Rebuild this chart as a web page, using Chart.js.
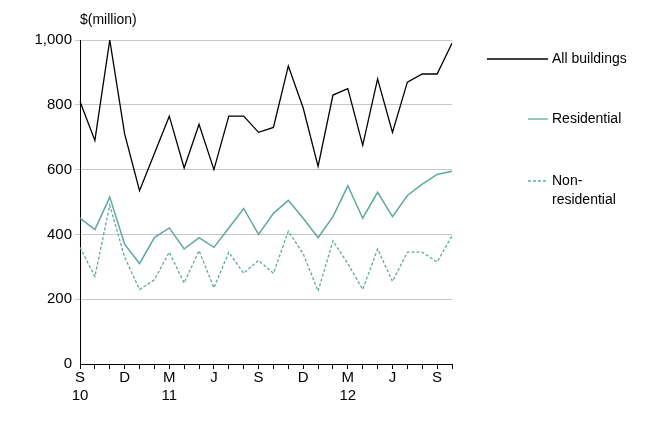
<!DOCTYPE html>
<html><head>
<script src="https://cdn.jsdelivr.net/npm/chart.js@4"></script>
<style>body{margin:0;background:#fff}#wrap{width:663px;height:425px}</style>
</head><body>
<div id="wrap"><canvas id="c"></canvas></div>
<script>
const months = ['S','O','N','D','J','F','M','A','M','J','J','A','S','O','N','D','J','F','M','A','M','J','J','A','S','O'];
const years = ['10','','','','','','11','','','','','','','','','','','','12','','','','','','',''];
const allBuildings = [810,690,1000,710,535,650,765,605,740,600,765,765,715,730,920,790,610,830,850,675,880,715,870,895,895,990];
const residential = [450,415,515,370,310,390,420,355,390,360,420,480,400,465,505,450,390,455,550,450,530,455,520,555,585,595];
const nonResidential = [360,270,490,330,230,260,345,250,350,235,345,280,320,280,410,340,225,380,310,230,355,255,345,345,315,395];
const yTicks = [0,200,400,600,800,1000];
const showTick = i => i % 3 === 0;
const teal = '#5fa8a0';
const FONT = 'Liberation Sans, Arial, sans-serif';

const legendPlugin = {
  id: 'side',
  afterDraw(chart) {
    const c = chart.ctx;
    c.save();
    c.font = '14px ' + FONT;
    c.fillStyle = '#000';
    c.textBaseline = 'middle';
    c.fillText('$(million)', 80, 20);
    const line = (x1, x2, y, col, dash) => {
      c.beginPath(); c.setLineDash(dash); c.strokeStyle = col; c.lineWidth = 1.3;
      c.moveTo(x1, y); c.lineTo(x2, y); c.stroke();
    };
    line(487, 548, 59, '#000', []);
    c.fillText('All buildings', 552, 59);
    line(528, 548, 119, teal, []);
    c.fillText('Residential', 552, 119);
    line(528, 548, 181, teal, [3, 2]);
    c.setLineDash([]);
    c.fillText('Non-', 552, 181);
    c.fillText('residential', 552, 200);
    c.restore();
  }
};

new Chart(document.getElementById('c'), {
  type: 'line',
  data: {
    labels: months.map((m, i) => [m, years[i]]),
    datasets: [
      { data: allBuildings, borderColor: '#000', borderWidth: 1.3 },
      { data: residential, borderColor: teal, borderWidth: 1.5 },
      { data: nonResidential, borderColor: teal, borderWidth: 1.3, borderDash: [3, 2] }
    ]
  },
  options: {
    responsive: true, maintainAspectRatio: false, animation: false,
    elements: { point: { radius: 0 }, line: { tension: 0 } },
    layout: { padding: { top: 40, right: 211, left: 0, bottom: 20 } },
    plugins: { legend: { display: false }, tooltip: { enabled: false } },
    scales: {
      x: {
        offset: false,
        grid: { drawOnChartArea: false, color: '#000', tickLength: 5, display: true },
        border: { color: '#000' },
        ticks: {
          autoSkip: false, maxRotation: 0, color: '#000', font: { family: FONT, size: 15 }, padding: 0,
          callback: (v, i) => showTick(i) ? [months[i], years[i]] : ''
        }
      },
      y: {
        min: 0, max: 1000,
        afterBuildTicks: ax => { ax.ticks = yTicks.map(v => ({ value: v })); },
        afterFit: ax => { ax.width = 80; },
        grid: { color: ctx => ctx.tick.value === 0 ? 'rgba(0,0,0,0)' : '#c8c8c8', tickLength: 5, drawTicks: true },
        border: { color: '#000' },
        ticks: { color: '#000', font: { family: FONT, size: 15 }, callback: v => v.toLocaleString('en-US') }
      }
    }
  },
  plugins: [legendPlugin]
});
</script>
</body></html>
